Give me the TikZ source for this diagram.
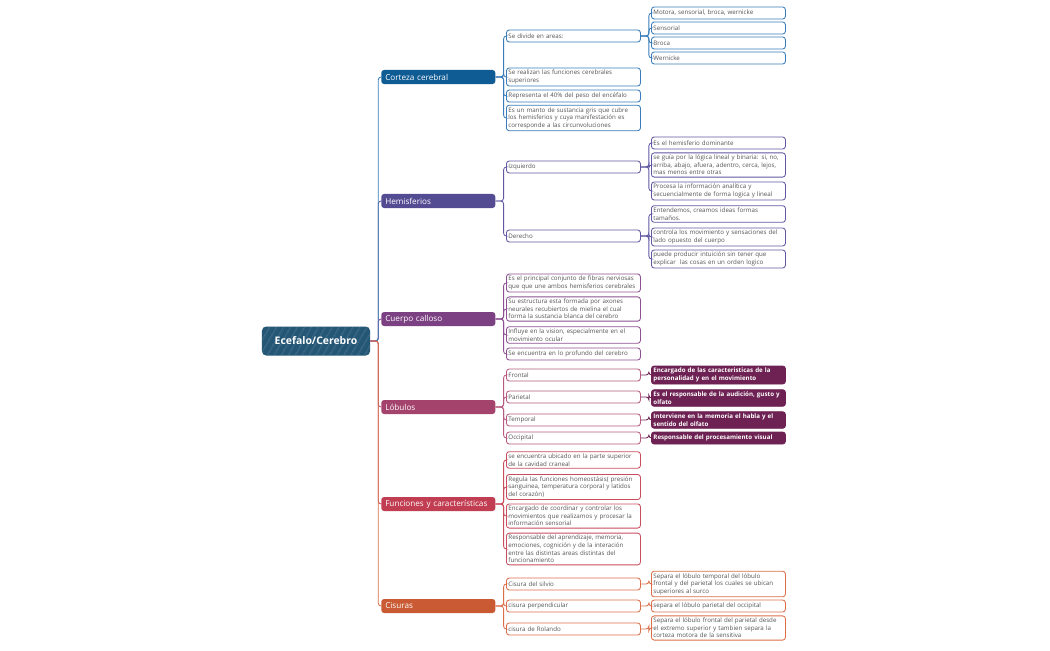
\documentclass[tikz,border=0pt]{standalone}
\usepackage{fontspec}
\setmainfont{Open Sans}
\usepackage{xcolor}
\usepackage{tikz}
\usetikzlibrary{patterns.meta}

\definecolor{rootcol}{HTML}{245676}
\definecolor{cortezafill}{HTML}{0F5B94}
\definecolor{cortezaline}{HTML}{3A7DBA}
\definecolor{hemisfill}{HTML}{544C93}
\definecolor{hemisline}{HTML}{6158A3}
\definecolor{callosofill}{HTML}{7C4183}
\definecolor{callosoline}{HTML}{8C5093}
\definecolor{lobfill}{HTML}{A4446D}
\definecolor{lobline}{HTML}{B85A80}
\definecolor{lobdark}{HTML}{6D2253}
\definecolor{funcfill}{HTML}{C13D51}
\definecolor{funcline}{HTML}{C94D5F}
\definecolor{cisfill}{HTML}{C95A33}
\definecolor{cisline}{HTML}{DA6F4A}
\definecolor{txtgray}{HTML}{555555}

\begin{document}
\begin{tikzpicture}[x=0.025cm, y=-0.025cm,
    root/.style={fill=rootcol, rounded corners=3pt, text=white,
        font=\fontsize{7.4}{8}\selectfont\bfseries, minimum width=2.7cm, minimum height=0.725cm,
        postaction={pattern={Lines[angle=60,distance=4pt,line width=0.25pt]}, pattern color=white!25!rootcol}},
    branch/.style={fill=#1, rounded corners=2pt, text=white, anchor=west,
        font=\fontsize{5.8}{6.6}\selectfont, text width=2.65cm, align=left,
        inner xsep=0.1cm, inner ysep=0pt, minimum height=0.35cm},
    leaf/.style={draw=#1, fill=white, rounded corners=2pt, line width=0.6pt, text=txtgray, anchor=west,
        font=\fontsize{4.4}{5.4}\selectfont, text width=3.25cm, align=left,
        inner xsep=0.05cm, inner ysep=1.5pt, minimum height=0.3cm},
    dark/.style={fill=lobdark, draw=lobdark, rounded corners=2pt, line width=0.6pt, text=white, anchor=west,
        font=\fontsize{4.4}{5.4}\selectfont\bfseries, text width=3.25cm, align=left,
        inner xsep=0.05cm, inner ysep=1.5pt, minimum height=0.3cm},
    conn/.style={draw=#1, line width=0.6pt, rounded corners=2pt}]

    \useasboundingbox (0,0) rectangle (1050,650);

    % Root and main branches
    \node[root] (root) at (316,341) {Ecefalo/Cerebro};
    \node[branch=cortezafill] (corteza) at (381,77) {Corteza cerebral};
    \node[branch=hemisfill] (hemis) at (381,201) {Hemisferios};
    \node[branch=callosofill] (calloso) at (381,319) {Cuerpo calloso};
    \node[branch=lobfill] (lobulos) at (381,407) {Lóbulos};
    \node[branch=funcfill] (funciones) at (381,504) {Funciones y características};
    \node[branch=cisfill] (cisuras) at (381,606) {Cisuras};

    % Corteza cerebral
    \node[leaf=cortezaline] (areas) at (506,36) {Se divide en areas:};
    \node[leaf=cortezaline] (co2) at (506,77) {Se realizan las funciones cerebrales\\superiores};
    \node[leaf=cortezaline] (co3) at (506,96) {Representa el 40\% del peso del encéfalo};
    \node[leaf=cortezaline] (co4) at (506,118) {Es un manto de sustancia gris que cubre\\los hemisferios y cuya manifestación es\\corresponde a las circunvoluciones};
    \node[leaf=cortezaline] (ar1) at (651,13) {Motora, sensorial, broca, wernicke};
    \node[leaf=cortezaline] (ar2) at (651,28) {Sensorial};
    \node[leaf=cortezaline] (ar3) at (651,43) {Broca};
    \node[leaf=cortezaline] (ar4) at (651,58) {Wernicke};

    % Hemisferios
    \node[leaf=hemisline] (izq) at (506,167) {Izquierdo};
    \node[leaf=hemisline] (der) at (506,236) {Derecho};
    \node[leaf=hemisline] (iz1) at (651,143) {Es el hemisferio dominante};
    \node[leaf=hemisline] (iz2) at (651,165) {se guía por la lógica lineal y binaria: si, no,\\arriba, abajo, afuera, adentro, cerca, lejos,\\mas menos entre otras};
    \node[leaf=hemisline] (iz3) at (651,191) {Procesa la información analítica y\\secuencialmente de forma logica y lineal};
    \node[leaf=hemisline] (de1) at (651,214) {Entendemos, creamos ideas formas\\tamaños.};
    \node[leaf=hemisline] (de2) at (651,237) {controla los movimiento y sensaciones del\\lado opuesto del cuerpo};
    \node[leaf=hemisline] (de3) at (651,259) {puede producir intuición sin tener que\\explicar \ las cosas en un orden logico};

    % Cuerpo calloso
    \node[leaf=callosoline] (ca1) at (506,283) {Es el principal conjunto de fibras nerviosas\\que que une ambos hemisferios cerebrales};
    \node[leaf=callosoline] (ca2) at (506,309) {Su estructura esta formada por axones\\neurales recubiertos de mielina el cual\\forma la sustancia blanca del cerebro};
    \node[leaf=callosoline] (ca3) at (506,335) {Influye en la vision, especialmente en el\\movimiento ocular};
    \node[leaf=callosoline] (ca4) at (506,354) {Se encuentra en lo profundo del cerebro};

    % Lobulos
    \node[leaf=lobline] (frontal) at (506,375) {Frontal};
    \node[leaf=lobline] (parietal) at (506,397) {Parietal};
    \node[leaf=lobline] (temporal) at (506,420) {Temporal};
    \node[leaf=lobline] (occipital) at (506,438) {Occipital};
    \node[dark] (fr1) at (651,375) {Encargado de las caracteristicas de la\\personalidad y en el movimiento};
    \node[dark] (pa1) at (651,398) {Es el responsable de la audición, gusto y\\olfato};
    \node[dark] (te1) at (651,420) {Interviene en la memoria el habla y el\\sentido del olfato};
    \node[dark] (oc1) at (651,438) {Responsable del procesamiento visual};

    % Funciones y caracteristicas
    \node[leaf=funcline] (fu1) at (506,460) {se encuentra ubicado en la parte superior\\de la cavidad craneal};
    \node[leaf=funcline] (fu2) at (506,487) {Regula las funciones homeostásis( presión\\sanguinea, temperatura corporal y latidos\\del corazón)};
    \node[leaf=funcline] (fu3) at (506,516) {Encargado de coordinar y controlar los\\movimientos que realizamos y procesar la\\información sensorial};
    \node[leaf=funcline] (fu4) at (506,549) {Responsable del aprendizaje, memoria,\\emociones, cognición y de la interación\\entre las distintas areas distintas del\\funcionamiento};

    % Cisuras
    \node[leaf=cisline] (silvio) at (506,584) {Cisura del silvio};
    \node[leaf=cisline] (perp) at (506,606) {cisura perpendicular};
    \node[leaf=cisline] (rolando) at (506,629) {cisura de Rolando};
    \node[leaf=cisline] (si1) at (651,584) {Separa el lóbulo temporal del lóbulo\\frontal y del parietal los cuales se ubican\\superiores al surco};
    \node[leaf=cisline] (pe1) at (651,606) {separa el lóbulo parietal del occipital};
    \node[leaf=cisline] (ro1) at (651,628) {Separa el lóbulo frontal del parietal desde\\el extremo superior y tambien separa la\\corteza motora de la sensitiva};

    % Connectors
    \foreach \b/\col in {hemis/hemisline, calloso/callosoline, corteza/cortezaline,
                         lobulos/lobline, funciones/funcline, cisuras/cisline}
        \draw[conn=\col] (root.east) -- ++(8,0) |- (\b.west);
    \foreach \c in {areas,co2,co3,co4}
        \draw[conn=cortezaline] (corteza.east) -- ++(8,0) |- (\c.west);
    \foreach \c in {ar1,ar2,ar3,ar4}
        \draw[conn=cortezaline] (areas.east) -- ++(8,0) |- (\c.west);
    \foreach \c in {izq,der}
        \draw[conn=hemisline] (hemis.east) -- ++(8,0) |- (\c.west);
    \foreach \c in {iz1,iz2,iz3}
        \draw[conn=hemisline] (izq.east) -- ++(8,0) |- (\c.west);
    \foreach \c in {de1,de2,de3}
        \draw[conn=hemisline] (der.east) -- ++(8,0) |- (\c.west);
    \foreach \c in {ca1,ca2,ca3,ca4}
        \draw[conn=callosoline] (calloso.east) -- ++(8,0) |- (\c.west);
    \foreach \c in {frontal,parietal,temporal,occipital}
        \draw[conn=lobline] (lobulos.east) -- ++(8,0) |- (\c.west);
    \foreach \a/\c in {frontal/fr1,parietal/pa1,temporal/te1,occipital/oc1}
        \draw[conn=lobdark] (\a.east) -- ++(8,0) |- (\c.west);
    \foreach \c in {fu1,fu2,fu3,fu4}
        \draw[conn=funcline] (funciones.east) -- ++(8,0) |- (\c.west);
    \foreach \c in {silvio,perp,rolando}
        \draw[conn=cisline] (cisuras.east) -- ++(8,0) |- (\c.west);
    \foreach \a/\c in {silvio/si1,perp/pe1,rolando/ro1}
        \draw[conn=cisline] (\a.east) -- ++(8,0) |- (\c.west);
\end{tikzpicture}
\end{document}
